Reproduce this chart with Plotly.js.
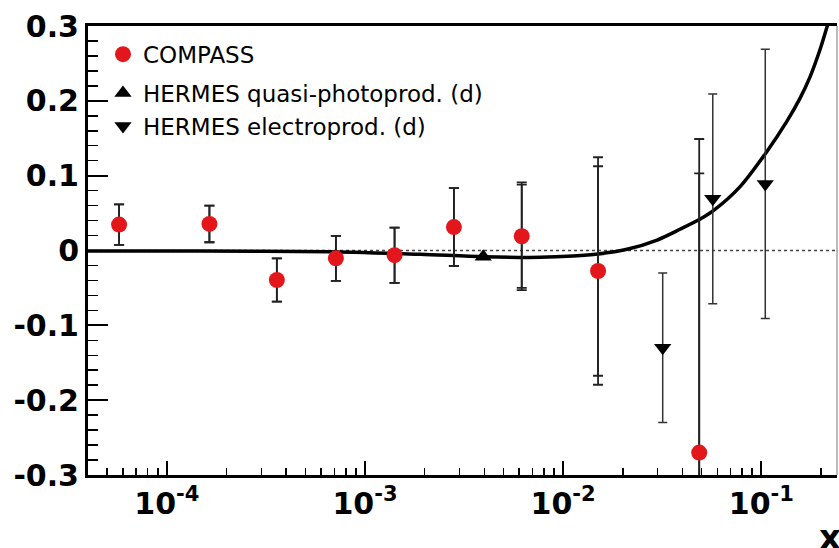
<!DOCTYPE html>
<html>
<head>
<meta charset="utf-8">
<script src="https://cdn.plot.ly/plotly-3.0.1.min.js"></script>
<style>html,body{margin:0;padding:0;background:#fff;}#chart{width:839px;height:548px;}</style>
</head>
<body>
<div id="chart"></div>
<script>
// ---- data ----
const compassX = [5.74e-5, 1.64e-4, 3.59e-4, 7.13e-4, 1.41e-3, 2.81e-3, 6.18e-3, 1.50e-2, 4.86e-2];
const compassY = [0.0346, 0.0355, -0.0394, -0.0105, -0.0063, 0.0313, 0.019, -0.0274, -0.270];
const compassErrTot = [0.027, 0.0245, 0.029, 0.030, 0.037, 0.052, 0.072, 0.152, 0.419];
const compassErrStat = [0.027, 0.0245, 0.029, 0.030, 0.037, 0.052, 0.069, 0.140, 0.373];

const hermesQX = [3.95e-3];
const hermesQY = [-0.0083];

const hermesEX = [3.18e-2, 5.69e-2, 0.1047];
const hermesEY = [-0.130, 0.069, 0.089];
const hermesEErr = [0.100, 0.140, 0.180];

const curveX = [4e-5, 1.47e-4, 6.67e-4, 1.90e-3, 3.95e-3, 7.66e-3, 1.12e-2, 1.50e-2, 2.10e-2, 2.98e-2, 3.89e-2, 4.92e-2, 5.73e-2, 7.82e-2, 0.1057, 0.1343, 0.1567, 0.1762, 0.1977, 0.2168];
const curveY = [-0.0007, -0.0007, -0.0016, -0.0051, -0.0083, -0.0091, -0.0074, -0.0047, 0.0016, 0.014, 0.0284, 0.042, 0.0532, 0.0853, 0.1307, 0.1722, 0.2033, 0.2321, 0.2682, 0.3029];

const seriesNames = ['COMPASS', 'HERMES quasi-photoprod. (d)', 'HERMES electroprod. (d)'];
const xTickVals = [1e-4, 1e-3, 1e-2, 1e-1];
const xTickText = ['10<sup>-4</sup>', '10<sup>-3</sup>', '10<sup>-2</sup>', '10<sup>-1</sup>'];
const yTickVals = [-0.3, -0.2, -0.1, 0, 0.1, 0.2, 0.3];
const yTickText = ['-0.3', '-0.2', '-0.1', '0', '0.1', '0.2', '0.3'];
const xTitle = 'x';

// minor tick positions for the log axis (2..9 in each decade)
const minorX = [];
for (let e = -5; e <= 0; e++) for (let m = 2; m <= 9; m++) minorX.push(m * Math.pow(10, e));

const traces = [
  {x: curveX, y: curveY, mode: 'lines', line: {color: '#000', width: 3.5, shape: 'spline', smoothing: 0.8}, showlegend: false, hoverinfo: 'skip'},
  {x: compassX, y: compassY, mode: 'markers', marker: {opacity: 0, size: 1}, showlegend: false,
   error_y: {type: 'data', array: compassErrStat, visible: true, color: '#222', thickness: 1.8, width: 5}},
  {x: compassX, y: compassY, mode: 'markers', name: seriesNames[0], legendgroup: 'a',
   marker: {symbol: 'circle', size: 16, color: '#e3161b'},
   error_y: {type: 'data', array: compassErrTot, visible: true, color: '#222', thickness: 1.8, width: 5}},
  {x: hermesQX, y: hermesQY, mode: 'markers', name: seriesNames[1], legendgroup: 'b',
   marker: {symbol: 'triangle-up', size: 15, color: '#000'}},
  {x: hermesEX, y: hermesEY, mode: 'markers', name: seriesNames[2], legendgroup: 'b',
   marker: {symbol: 'triangle-down', size: 15, color: '#000'},
   error_y: {type: 'data', array: hermesEErr, visible: true, color: '#333', thickness: 1.5, width: 4.5}}
];

const layout = {
  width: 839, height: 548,
  margin: {l: 88, r: 2, t: 26, b: 73, pad: 0},
  paper_bgcolor: '#fff', plot_bgcolor: '#fff',
  showlegend: true,
  legend: {x: 0.02, y: 0.985, xanchor: 'left', yanchor: 'top', bgcolor: 'rgba(0,0,0,0)',
           font: {family: 'DejaVu Sans', size: 23, color: '#000'}, traceorder: 'grouped', tracegroupgap: 6},
  xaxis: {
    type: 'log', range: [Math.log10(4e-5), -0.618],
    tickmode: 'array', tickvals: xTickVals, ticktext: xTickText,
    ticks: 'inside', ticklen: 14, tickwidth: 2, tickcolor: '#000',
    minor: {tickmode: 'array', tickvals: minorX, ticks: 'inside', ticklen: 7, tickwidth: 1.5, tickcolor: '#000', showgrid: false},
    showline: true, linewidth: 3, linecolor: '#000', mirror: true,
    showgrid: false, zeroline: false,
    tickfont: {family: 'DejaVu Sans', size: 30, color: '#000', weight: 'bold'}
  },
  yaxis: {
    range: [-0.3, 0.3],
    tickmode: 'array', tickvals: yTickVals, ticktext: yTickText,
    ticks: 'inside', ticklen: 20, tickwidth: 2, tickcolor: '#000',
    minor: {dtick: 0.02, ticks: 'inside', ticklen: 10, tickwidth: 1.5, tickcolor: '#000', showgrid: false},
    showline: true, linewidth: 3, linecolor: '#000', mirror: false,
    showgrid: false, zeroline: false,
    tickfont: {family: 'DejaVu Sans', size: 30, color: '#000', weight: 'bold'}
  },
  shapes: [
    {type: 'line', xref: 'paper', yref: 'y', x0: 0, x1: 1, y0: 0, y1: 0, line: {color: '#444', width: 1.5, dash: 'dot'}, layer: 'below'},
    {type: 'line', xref: 'paper', yref: 'paper', x0: 1, x1: 1, y0: 0, y1: 1, line: {color: '#777', width: 1}, layer: 'below'}
  ],
  annotations: [
    {text: xTitle, xref: 'paper', yref: 'paper', x: 0.99, y: -0.09, xanchor: 'center', yanchor: 'top', showarrow: false,
     font: {family: 'DejaVu Sans', size: 34, color: '#000', weight: 'bold'}}
  ]
};

Plotly.newPlot('chart', traces, layout, {displayModeBar: false, staticPlot: true});
</script>
</body>
</html>
